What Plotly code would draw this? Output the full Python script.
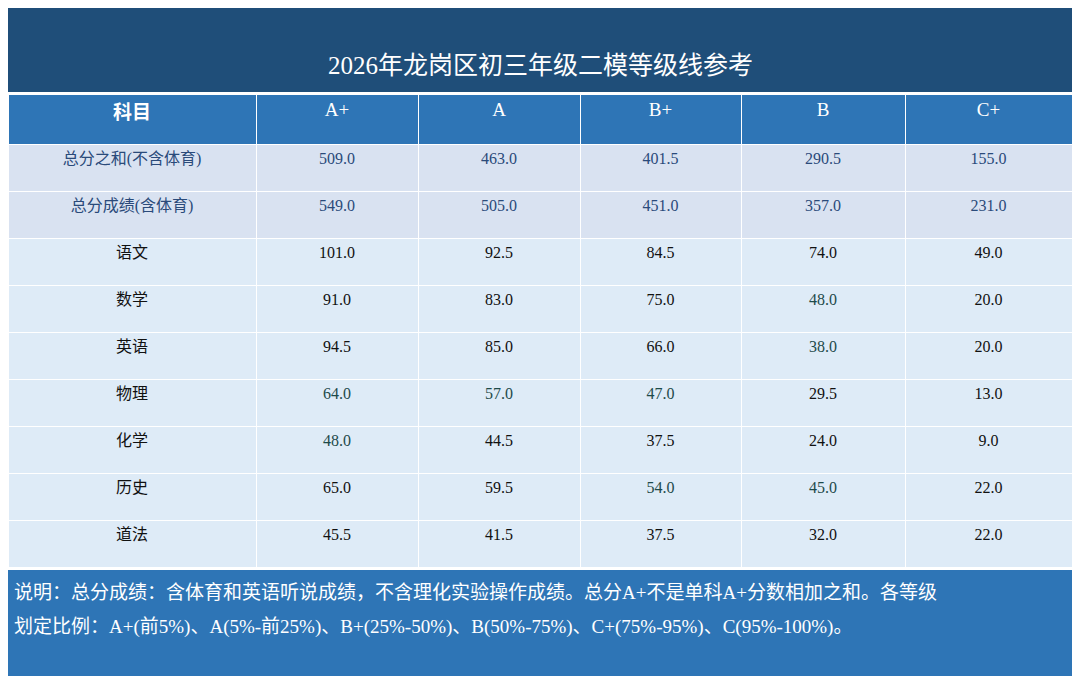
import plotly.graph_objects as go

# the page puts an 8px body margin around the plot, so work in a 1064x668 frame
W, H = 1064, 668
FONT = "Liberation Serif, Noto Sans CJK SC"

title = "2026年龙岗区初三年级二模等级线参考"
columns = ["<b>科目</b>", "A+", "A", "B+", "B", "C+"]
subjects = ["总分之和(不含体育)", "总分成绩(含体育)", "语文", "数学", "英语", "物理", "化学", "历史", "道法"]
a_plus = [509.0, 549.0, 101.0, 91.0, 94.5, 64.0, 48.0, 65.0, 45.5]
a = [463.0, 505.0, 92.5, 83.0, 85.0, 57.0, 44.5, 59.5, 41.5]
b_plus = [401.5, 451.0, 84.5, 75.0, 66.0, 47.0, 37.5, 54.0, 37.5]
b = [290.5, 357.0, 74.0, 48.0, 38.0, 29.5, 24.0, 45.0, 32.0]
c_plus = [155.0, 231.0, 49.0, 20.0, 20.0, 13.0, 9.0, 22.0, 22.0]
note_lines = ["说明：总分成绩：含体育和英语听说成绩，不含理化实验操作成绩。总分A+不是单科A+分数相加之和。各等级",
              "划定比例：A+(前5%)、A(5%-前25%)、B+(25%-50%)、B(50%-75%)、C+(75%-95%)、C(95%-100%)。"]

# cells drawn in a dark teal tone in the source
teal = {(3, 4), (4, 4), (5, 1), (5, 2), (5, 3), (6, 1), (7, 3), (7, 4)}

values = [subjects] + [[f"{v:.1f}" for v in col] for col in (a_plus, a, b_plus, b, c_plus)]
fills, colors = [], []
for c in range(6):
    fcol, ccol = [], []
    for r in range(len(subjects)):
        fcol.append("#d9e2f1" if r < 2 else "#deebf7")
        if r < 2:
            ccol.append("#2a4a7a")
        elif (r, c) in teal:
            ccol.append("#1d4a4a")
        else:
            ccol.append("#111111")
    fills.append(fcol)
    colors.append(ccol)

fig = go.Figure()
fig.add_trace(go.Table(
    domain=dict(x=[0, 1], y=[1 - 562 / H, 1 - 86 / H]),
    columnwidth=[248, 162, 162, 161, 164, 167],
    header=dict(values=columns, fill_color="#2e75b6", height=50,
                line=dict(color="#ffffff", width=1),
                font=dict(family=FONT, size=19, color="white"), align="center"),
    cells=dict(values=values, fill_color=fills, height=47,
               line=dict(color="#ffffff", width=1),
               font=dict(family=FONT, size=16, color=colors), align="center"),
))

fig.add_shape(type="rect", xref="paper", yref="paper", x0=0, x1=1,
              y0=1 - 84 / H, y1=1, fillcolor="#1f4e79", line_width=0)
fig.add_annotation(text=title, xref="paper", yref="paper", x=0.5, y=1 - 42 / H,
                   showarrow=False, font=dict(family=FONT, size=25, color="white"))
fig.add_shape(type="rect", xref="paper", yref="paper", x0=0, x1=1,
              y0=1 - 668 / H, y1=1 - 562 / H, fillcolor="#2e75b6", line_width=0)
for i, line in enumerate(note_lines):
    fig.add_annotation(text=line, xref="paper", yref="paper", x=4 / W, y=1 - (597 + 35 * i) / H,
                       xanchor="left", align="left", showarrow=False,
                       font=dict(family=FONT, size=19, color="white"))

fig.update_layout(width=W, height=H, margin=dict(l=0, r=0, t=0, b=0),
                  paper_bgcolor="white", plot_bgcolor="white")
fig.write_html("out.html")
